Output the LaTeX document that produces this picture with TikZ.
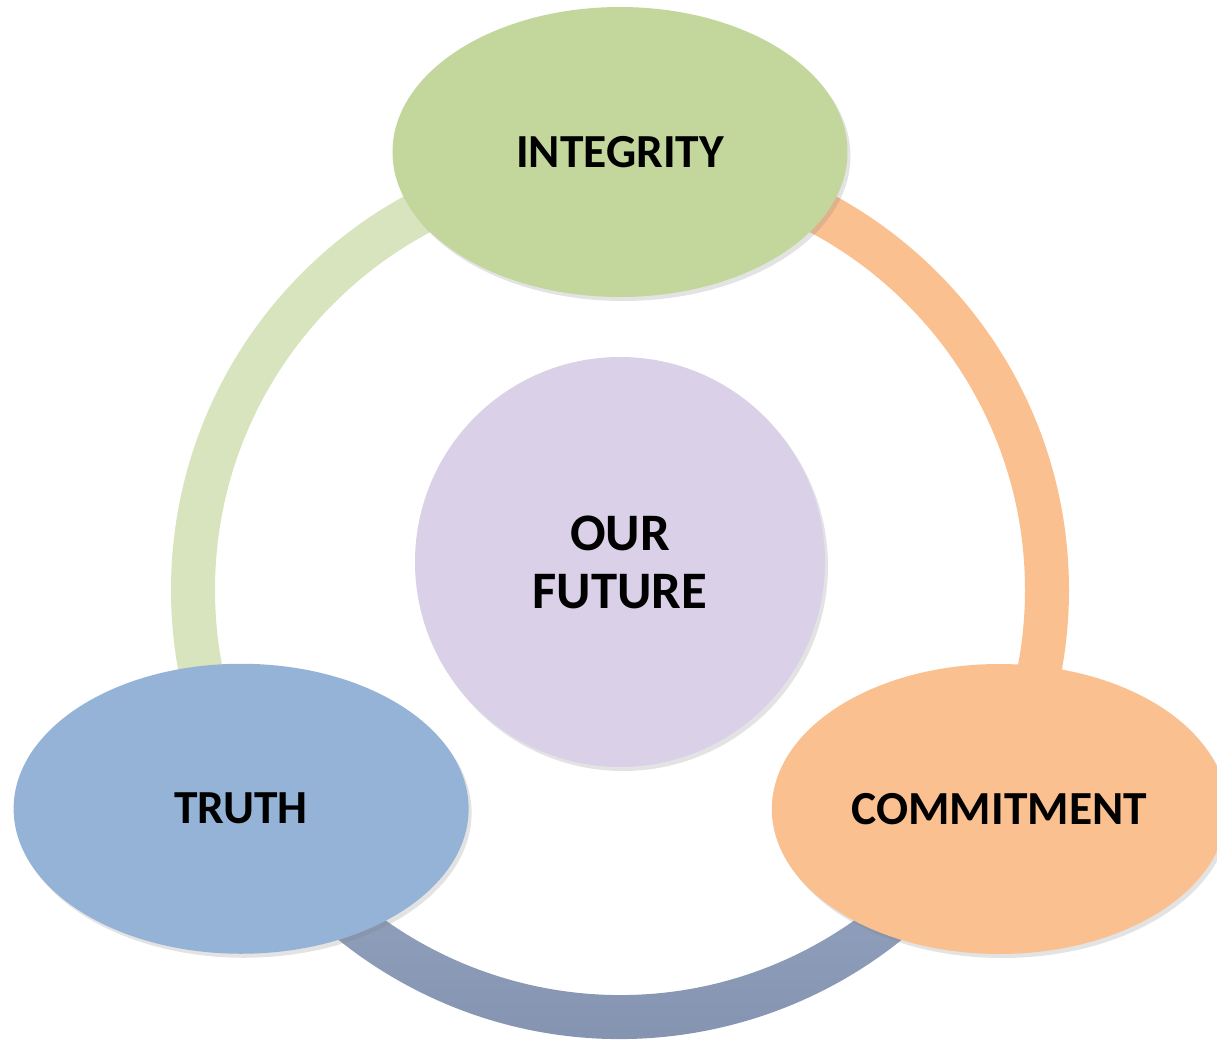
\documentclass[tikz,border=0pt]{standalone}
\usepackage{fontspec}
\setmainfont{Carlito}
\usetikzlibrary{shapes,positioning,shadows}
\definecolor{integritycolor}{RGB}{195,214,155}
\definecolor{truthcolor}{RGB}{149,179,215}
\definecolor{commitcolor}{RGB}{250,192,144}
\definecolor{futurecolor}{RGB}{218,208,232}
\definecolor{greenring}{RGB}{215,228,189}
\definecolor{bluetop}{RGB}{151,167,197}
\definecolor{bluebot}{RGB}{128,143,171}

\begin{document}
\begin{tikzpicture}[
    valnode/.style={ellipse, minimum width=9.1cm, minimum height=5.8cm, align=center,
        font=\fontsize{27}{32}\selectfont\bfseries,
        drop shadow={shadow xshift=0.06cm, shadow yshift=-0.08cm, opacity=0.22}},
    ring/.style={line width=0.88cm}
]
\useasboundingbox (-12.4,-9.0) rectangle (11.94,11.8);

% Ring
\draw[ring, greenring] (90:8.54) arc (90:210:8.54);
\draw[ring, commitcolor] (90:8.54) arc (90:-30:8.54);
\shade[top color=bluetop, bottom color=bluebot]
    (210:8.1) arc (210:330:8.1) -- (330:8.98) arc (330:210:8.98) -- cycle;

% Values
\node[valnode, fill=integritycolor] (integrity) at (90:8.76) {INTEGRITY};
\node[valnode, fill=truthcolor] (truth) at (210:8.75) {TRUTH};
\node[valnode, fill=commitcolor] (commit) at (330:8.76) {COMMITMENT};

% Centre
\node[circle, fill=futurecolor, minimum size=8.2cm, align=center,
    font=\fontsize{30}{33}\selectfont\bfseries,
    drop shadow={shadow xshift=0.06cm, shadow yshift=-0.08cm, opacity=0.22}]
    (future) at (0,0.56) {OUR\\FUTURE};

\end{tikzpicture}
\end{document}
